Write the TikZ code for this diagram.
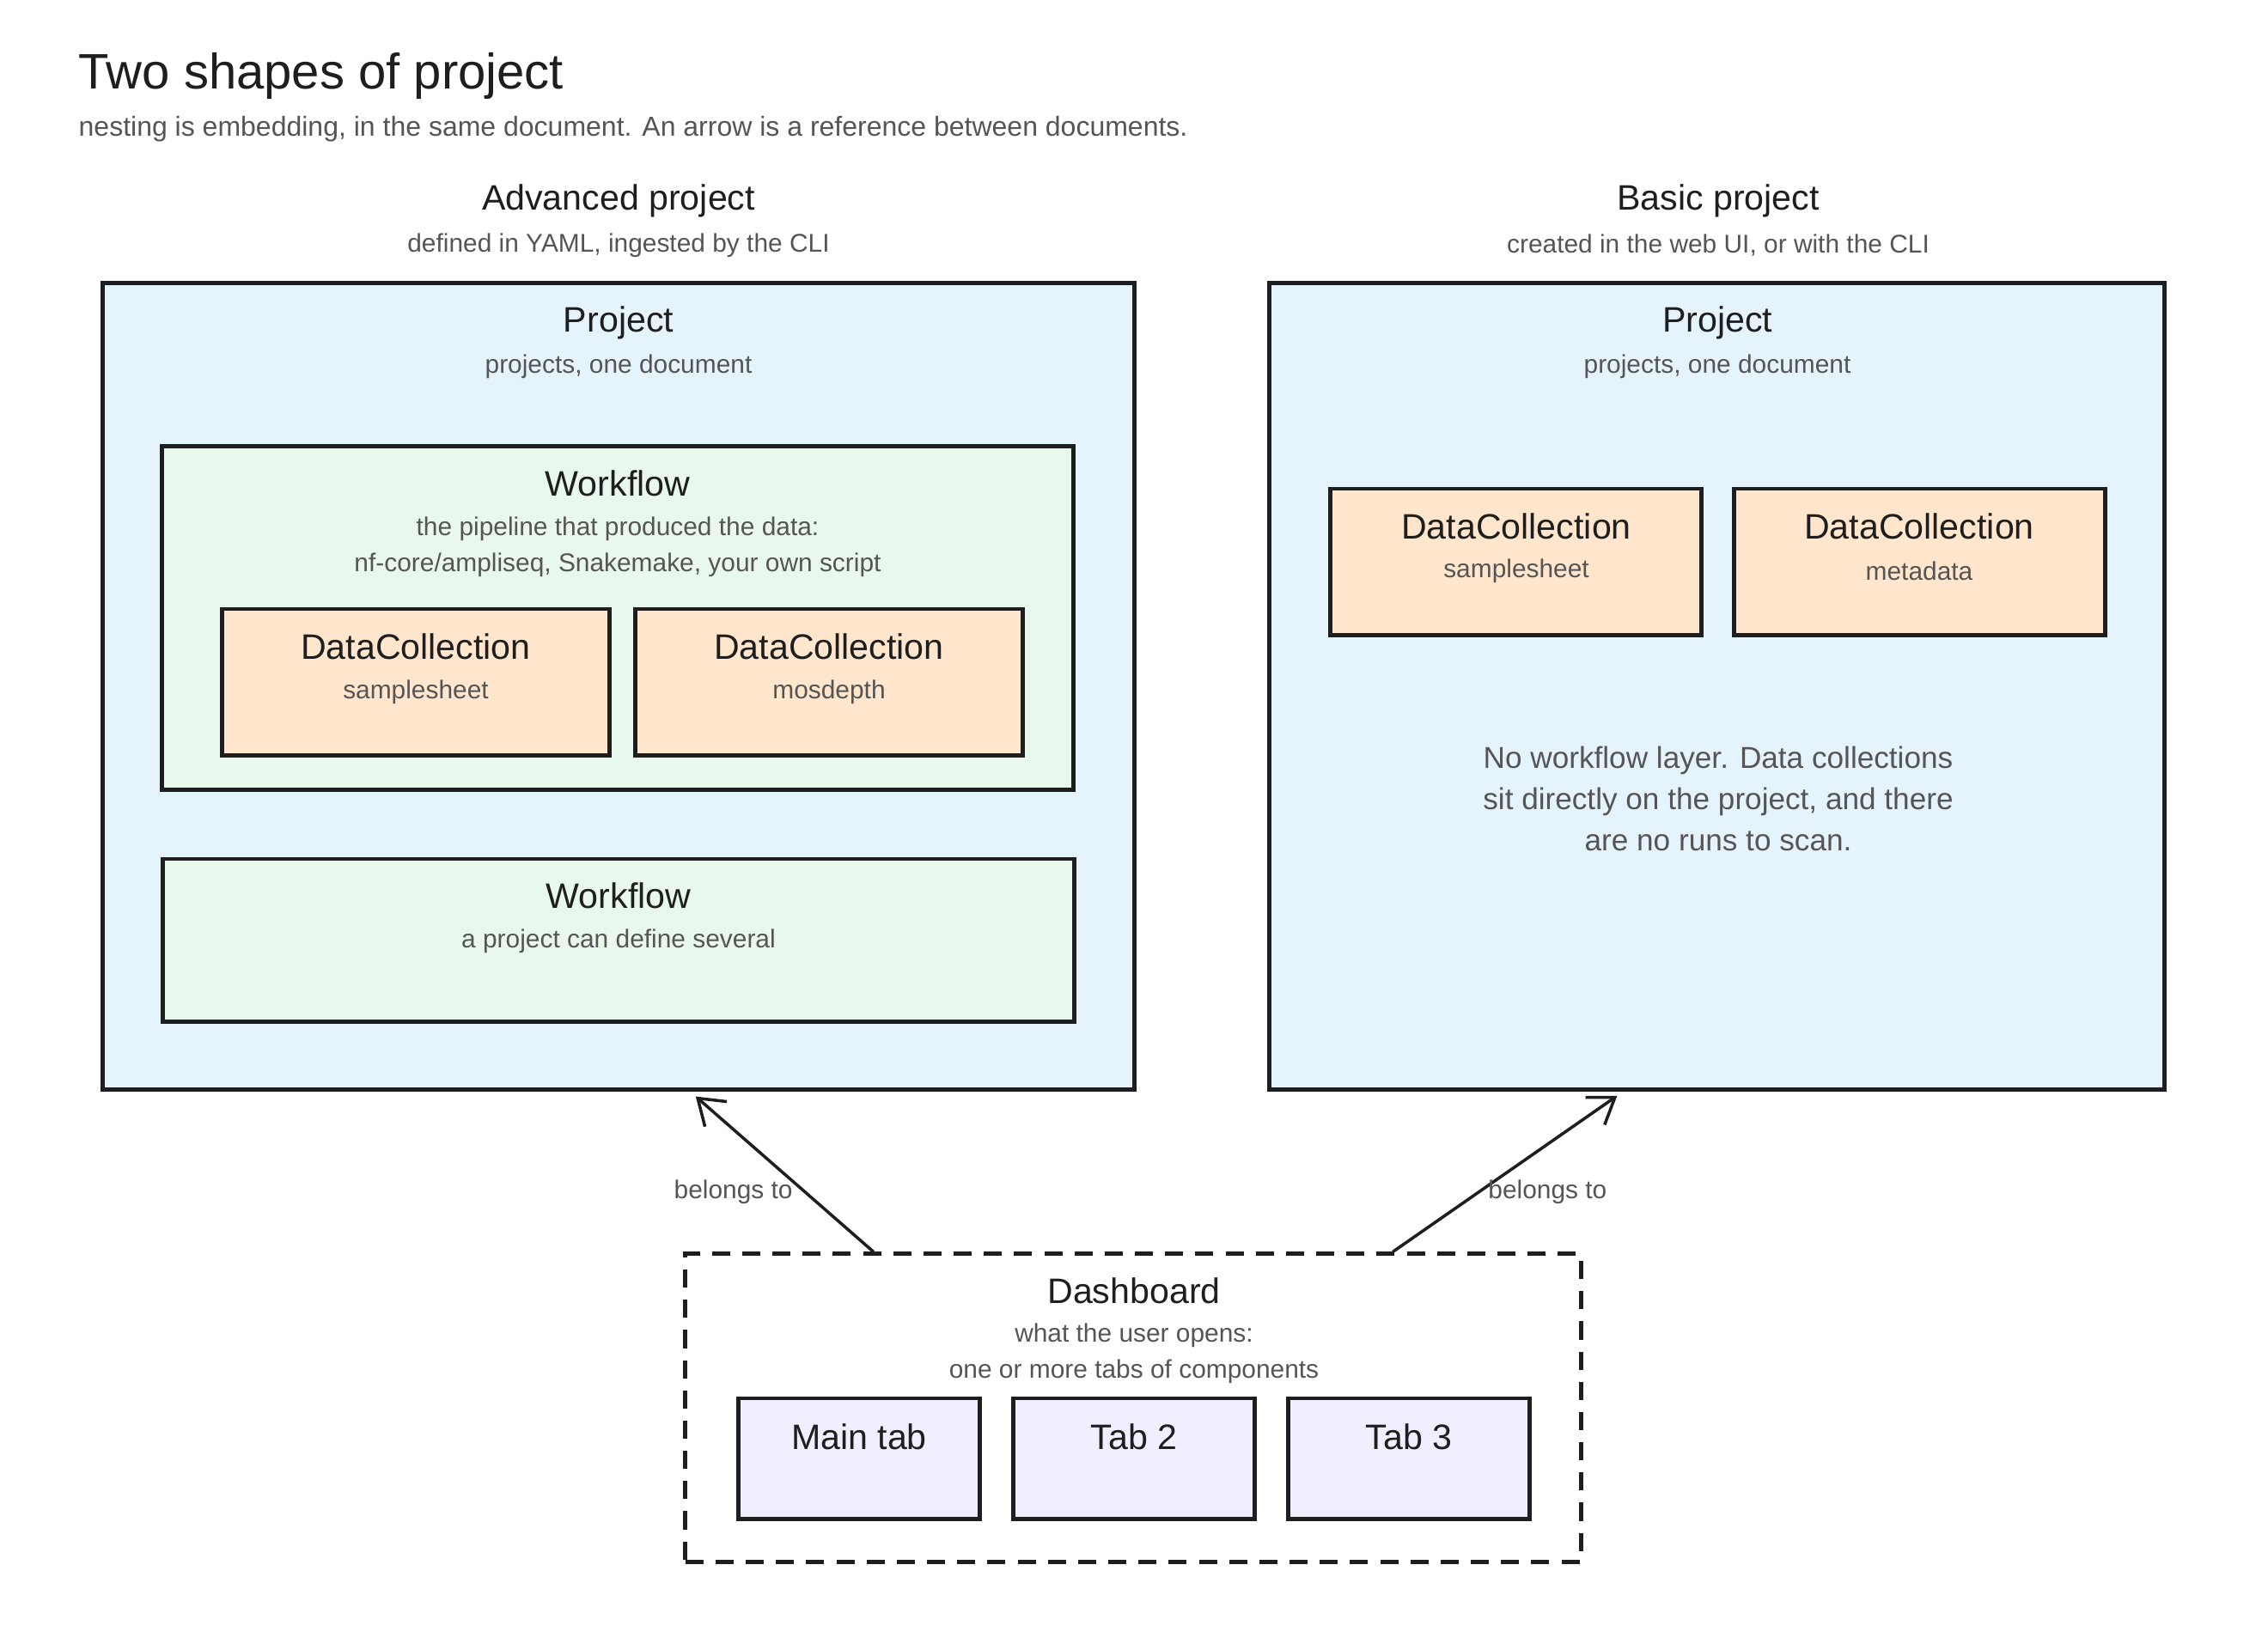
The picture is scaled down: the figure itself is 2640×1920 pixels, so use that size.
\documentclass[tikz,border=0pt]{standalone}
\usepackage{fontspec}
\setmainfont{Liberation Sans}
\usetikzlibrary{arrows.meta}
\definecolor{ink}{HTML}{1E1E1E}
\definecolor{grey}{HTML}{555555}
\definecolor{projfill}{HTML}{E5F3FD}
\definecolor{wffill}{HTML}{E8F8EC}
\definecolor{dcfill}{HTML}{FFE6CC}
\definecolor{tabfill}{HTML}{F0EFFF}

\begin{document}
\begin{tikzpicture}[x=0.01cm,y=-0.01cm]
			\tikzstyle{box}=[draw=ink,line width=1.4pt,inner sep=0pt]
			\tikzstyle{proj}=[box,fill=projfill,minimum height=9.38cm]
			\tikzstyle{wf}=[box,fill=wffill,minimum width=10.6cm]
			\tikzstyle{dc}=[box,fill=dcfill,minimum height=1.7cm]
			\tikzstyle{tab}=[box,fill=tabfill,minimum width=2.8cm,minimum height=1.4cm]
			\tikzstyle{head}=[text=ink,font=\fontsize{11.7}{14}\selectfont]
			\tikzstyle{small}=[text=grey,font=\fontsize{8.5}{12}\selectfont,align=center]
			\tikzstyle{belong}=[draw=ink,line width=1pt,-{Straight Barb[length=8pt,width=11pt]},shorten >=2.5pt]
				\fill [white] (0,0) rectangle (2640,1920);
				\useasboundingbox (0,0) rectangle (2640,1920);
				% heading
				\node [anchor=west,inner sep=0pt,text=ink,font=\fontsize{16.5}{20}\selectfont] (title) at (91,88) {Two shapes of project};
				\node [anchor=west,inner sep=0pt,small,font=\fontsize{9.1}{12}\selectfont] (subtitle) at (91,150) {nesting is embedding, in the same document. An arrow is a reference between documents.};
				% advanced project
				\node [head] (advtitle) at (720,234) {Advanced project};
				\node [small] (advsub) at (720,286) {defined in YAML, ingested by the CLI};
				\node [proj,minimum width=12cm] (advp) at (720,799) {};
				\node [head] (advptitle) at (720,376) {Project};
				\node [small] (advpsub) at (720,427) {projects, one document};
				\node [wf,minimum height=3.99cm] (wf1) at (719,719.5) {};
				\node [head] (wf1title) at (719,563) {Workflow};
				\node [small] (wf1sub) at (719,637) {the pipeline that produced the data:\\nf-core/ampliseq, Snakemake, your own script};
				\node [dc,minimum width=4.5cm] (dcA) at (484,794) {};
				\node [head] (dcAtitle) at (484,753) {DataCollection};
				\node [small] (dcAsub) at (484,806) {samplesheet};
				\node [dc,minimum width=4.5cm] (dcB) at (965,794) {};
				\node [head] (dcBtitle) at (965,753) {DataCollection};
				\node [small] (dcBsub) at (965,806) {mosdepth};
				\node [wf,minimum height=1.89cm] (wf2) at (720,1094.5) {};
				\node [head] (wf2title) at (720,1043) {Workflow};
				\node [small] (wf2sub) at (720,1096) {a project can define several};
				% basic project
				\node [head] (bastitle) at (2000,234) {Basic project};
				\node [small] (bassub) at (2000,286) {created in the web UI, or with the CLI};
				\node [proj,minimum width=10.41cm] (basp) at (1998.5,799) {};
				\node [head] (basptitle) at (1999,376) {Project};
				\node [small] (baspsub) at (1999,427) {projects, one document};
				\node [dc,minimum width=4.31cm] (dcC) at (1764.5,654) {};
				\node [head] (dcCtitle) at (1765,613) {DataCollection};
				\node [small] (dcCsub) at (1765,665) {samplesheet};
				\node [dc,minimum width=4.31cm] (dcD) at (2234.5,654) {};
				\node [head] (dcDtitle) at (2234,613) {DataCollection};
				\node [small] (dcDsub) at (2234,665) {metadata};
				\node [small,font=\fontsize{10}{13.7}\selectfont] (note) at (2000,930) {No workflow layer. Data collections\\sit directly on the project, and there\\are no runs to scan.};
				% dashboard
				\node [box,dashed,dash pattern=on 6pt off 4pt,minimum width=10.42cm,minimum height=3.58cm] (dash) at (1319,1639) {};
				\node [head] (dashtitle) at (1320,1503) {Dashboard};
				\node [small] (dashsub) at (1320,1576) {what the user opens:\\one or more tabs of components};
				\node [tab] (tab1) at (1000,1698) {};
				\node [tab] (tab2) at (1320,1698) {};
				\node [tab] (tab3) at (1640,1698) {};
				\node [head] (tab1name) at (1000,1673) {Main tab};
				\node [head] (tab2name) at (1320,1673) {Tab 2};
				\node [head] (tab3name) at (1640,1673) {Tab 3};
				% references
				\draw [belong] (dash.149.2) to node[pos=0.375,left,inner sep=3.5pt,small]{belongs to} (advp.-80.2);
				\draw [belong] (dash.31) to node[pos=0.375,right,inner sep=2.5pt,small]{belongs to} (basp.-103.6);
	\end{tikzpicture}
\end{document}
